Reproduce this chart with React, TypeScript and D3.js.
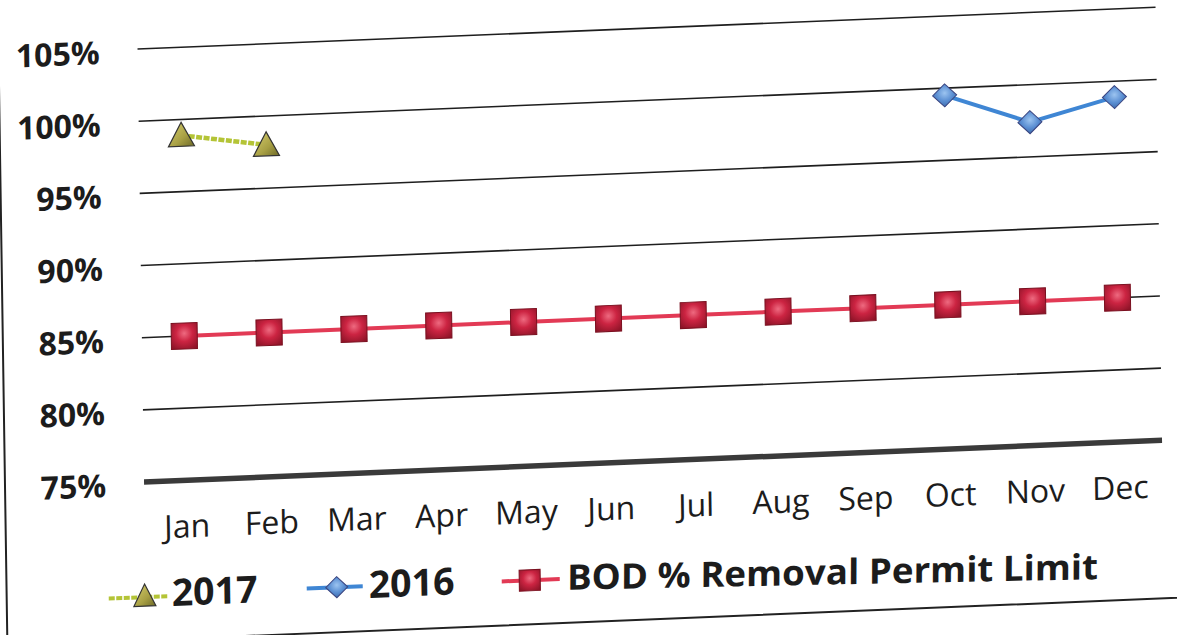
import React from "react";
import * as d3 from "d3";

const months = ["Jan", "Feb", "Mar", "Apr", "May", "Jun", "Jul", "Aug", "Sep", "Oct", "Nov", "Dec"];
const series2017: (number | null)[] = [98.9, 98.0, null, null, null, null, null, null, null, null, null, null];
const series2016: (number | null)[] = [null, null, null, null, null, null, null, null, null, 99.5, 97.4, 98.9];
const permitLimit: (number | null)[] = [85, 85, 85, 85, 85, 85, 85, 85, 85, 85, 85, 85];
const yTicks = [75, 80, 85, 90, 95, 100, 105];
const legendLabels = ["2017", "2016", "BOD % Removal Permit Limit"];

const W = 1177;
const H = 635;
const FONT = "'Open Sans', Lato, 'DejaVu Sans', sans-serif";

export default function App() {
  const x = d3.scaleBand<string>().domain(months).range([144, 1162]);
  const cx = (m: string) => (x(m) as number) + x.bandwidth() / 2;
  const y = d3.scaleLinear().domain([75, 105]).range([482, 49]);

  const line = d3
    .line<number | null>()
    .defined((d) => d != null)
    .x((_, i) => cx(months[i]))
    .y((d) => y(d as number));

  const square = (s: number) => `M${-s / 2},${-s / 2}h${s}v${s}h${-s}Z`;
  const diamond = (w: number, h: number) => `M0,${-h}L${w},0L0,${h}L${-w},0Z`;
  const triangle = (w: number, h: number) => `M0,${-h / 2 - 2}L${w / 2},${h / 2}L${-w / 2},${h / 2}Z`;

  const pts = (arr: (number | null)[]) =>
    arr.map((v, i) => (v == null ? null : { x: cx(months[i]), y: y(v) })).filter(Boolean) as { x: number; y: number }[];

  return (
    <svg width={W} height={H} style={{ position: "absolute", left: 0, top: 0, background: "#fff" }}>
      <defs>
        <radialGradient id="gSq" cx="50%" cy="40%" r="70%">
          <stop offset="0%" stopColor="#ee6a80" />
          <stop offset="45%" stopColor="#cc2442" />
          <stop offset="100%" stopColor="#8e1428" />
        </radialGradient>
        <radialGradient id="gDi" cx="50%" cy="40%" r="70%">
          <stop offset="0%" stopColor="#9cc4f0" />
          <stop offset="50%" stopColor="#5a8ed2" />
          <stop offset="100%" stopColor="#33609e" />
        </radialGradient>
        <linearGradient id="gTr" x1="0" y1="0" x2="1" y2="1">
          <stop offset="0%" stopColor="#d8d070" />
          <stop offset="60%" stopColor="#a8a044" />
          <stop offset="100%" stopColor="#6e6a28" />
        </linearGradient>
      </defs>
      <g transform="matrix(1,-0.041,0.015,1,-7.2,5.945)">
        {/* frame */}
        <rect x={5} y={-60} width={1320} height={700} fill="none" stroke="#222" strokeWidth={2} />

        {/* gridlines */}
        {yTicks
          .filter((t) => t !== 75)
          .map((t) => (
            <line key={t} x1={144} x2={1162} y1={y(t)} y2={y(t)} stroke="#1e1e1e" strokeWidth={1.6} />
          ))}
        {/* x axis */}
        <line x1={144} x2={1162} y1={y(75)} y2={y(75)} stroke="#3a3a3a" strokeWidth={5.5} />

        {/* y labels */}
        {yTicks.map((t) => (
          <text
            key={t}
            x={106}
            y={y(t) + 13.5}
            textAnchor="end"
            fontFamily={FONT}
            fontWeight={700}
            fontSize={32}
            fill="#1c1c1c"
          >
            {t}%
          </text>
        ))}

        {/* x labels */}
        {months.map((m) => (
          <text key={m} x={cx(m)} y={539} textAnchor="middle" fontFamily={FONT} fontSize={32} fill="#1c1c1c">
            {m}
          </text>
        ))}

        {/* permit limit */}
        <path d={line(permitLimit) || ""} fill="none" stroke="#e23a55" strokeWidth={4} />
        {pts(permitLimit).map((p, i) => (
          <path key={i} d={square(26)} transform={`translate(${p.x},${p.y})`} fill="url(#gSq)" stroke="#7a1020" strokeWidth={1} />
        ))}

        {/* 2016 */}
        <path d={line(series2016) || ""} fill="none" stroke="#3f86d4" strokeWidth={4} />
        {pts(series2016).map((p, i) => (
          <path key={i} d={diamond(12, 11.5)} transform={`translate(${p.x},${p.y})`} fill="url(#gDi)" stroke="#3a4580" strokeWidth={1} />
        ))}

        {/* 2017 */}
        <path d={line(series2017) || ""} fill="none" stroke="#b4c436" strokeWidth={4.5} strokeDasharray="6 1.5" />
        {pts(series2017).map((p, i) => (
          <path key={i} d={triangle(26, 22)} transform={`translate(${p.x},${p.y})`} fill="url(#gTr)" stroke="#333" strokeWidth={1.2} />
        ))}

        {/* legend */}
        <line x1={107} x2={167} y1={597} y2={597} stroke="#b4c436" strokeWidth={4} strokeDasharray="6 1.5" />
        <path d={triangle(22, 20)} transform="translate(143,596)" fill="url(#gTr)" stroke="#333" strokeWidth={1.2} />
        <text x={170} y={607} fontFamily={FONT} fontWeight={700} fontSize={37.5} fill="#1c1c1c">
          {legendLabels[0]}
        </text>

        <line x1={305} x2={361} y1={595} y2={595} stroke="#3f86d4" strokeWidth={4} />
        <path d={diamond(11, 10.5)} transform="translate(335,595)" fill="url(#gDi)" stroke="#3a4580" strokeWidth={1} />
        <text x={367} y={607} fontFamily={FONT} fontWeight={700} fontSize={37.5} fill="#1c1c1c">
          {legendLabels[1]}
        </text>

        <line x1={500} x2={558} y1={596} y2={596} stroke="#e23a55" strokeWidth={4} />
        <path d={square(21)} transform="translate(528,596)" fill="url(#gSq)" stroke="#7a1020" strokeWidth={1} />
        <text
          x={565}
          y={607}
          transform="rotate(1.2,565,607)"
          fontFamily={FONT}
          fontWeight={700}
          fontSize={35}
          fill="#1c1c1c"
          textLength={531}
          lengthAdjust="spacingAndGlyphs"
        >
          {legendLabels[2]}
        </text>
      </g>
    </svg>
  );
}
